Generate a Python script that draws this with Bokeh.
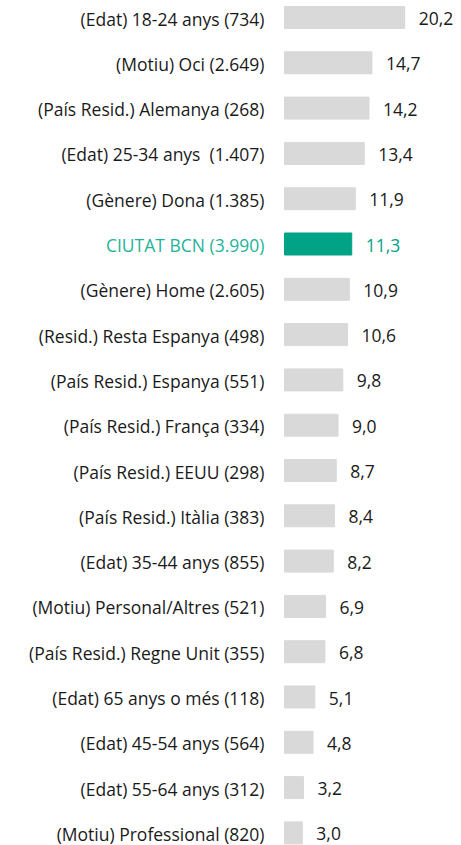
from bokeh.plotting import figure
from bokeh.models import Range1d, ColumnDataSource
from bokeh.core.properties import value
from bokeh.embed import file_html
from bokeh.resources import INLINE

labels = [
    "(Edat) 18-24 anys (734)",
    "(Motiu) Oci (2.649)",
    "(País Resid.) Alemanya (268)",
    "(Edat) 25-34 anys \u00a0(1.407)",
    "(Gènere) Dona (1.385)",
    "CIUTAT BCN (3.990)",
    "(Gènere) Home (2.605)",
    "(Resid.) Resta Espanya (498)",
    "(País Resid.) Espanya (551)",
    "(País Resid.) França (334)",
    "(País Resid.) EEUU (298)",
    "(País Resid.) Itàlia (383)",
    "(Edat) 35-44 anys (855)",
    "(Motiu) Personal/Altres (521)",
    "(País Resid.) Regne Unit (355)",
    "(Edat) 65 anys o més (118)",
    "(Edat) 45-54 anys (564)",
    "(Edat) 55-64 anys (312)",
    "(Motiu) Professional (820)",
]
values = [20.2, 14.7, 14.2, 13.4, 11.9, 11.3, 10.9, 10.6, 9.8, 9.0, 8.7, 8.4, 8.2, 6.9, 6.8, 5.1, 4.8, 3.2, 3.0]
highlight = "CIUTAT BCN (3.990)"

GREY = "#d9d9d9"
TEAL = "#00a385"
TEAL_TXT = "#1fb39a"
TXT = "#1a1a1a"

pos = list(range(len(labels)))
bar_colors = [TEAL if l == highlight else GREY for l in labels]
lab_colors = [TEAL_TXT if l == highlight else TXT for l in labels]
val_colors = [TEAL if l == highlight else TXT for l in labels]
val_text = [f"{v:.1f}".replace(".", ",") for v in values]

src = ColumnDataSource(dict(y=pos, v=values, lab=labels, vt=val_text,
                            bc=bar_colors, lc=lab_colors, vc=val_colors,
                            zero=[0] * len(pos)))

W, H = 455, 845
scale = 5.95
x0 = 284
row0 = 17
step = 45.3
p = figure(width=W, height=H, output_backend="svg", toolbar_location=None,
           x_range=Range1d(-x0 / scale, (W - x0) / scale),
           y_range=Range1d((H - row0) / step, -row0 / step),
           min_border=0, outline_line_color=None)
p.axis.visible = False
p.grid.visible = False

p.hbar(y="y", left=0, right="v", height=0.486, color="bc", source=src)
p.text(x="zero", y="y", text="lab", text_color="lc", x_offset=-20, y_offset=1,
       text_align="right", text_baseline="middle", text_font=value("Open Sans"),
       text_font_size="17.5px", source=src)
p.text(x="v", y="y", text="vt", text_color="vc", x_offset=14, y_offset=1,
       text_align="left", text_baseline="middle", text_font=value("Open Sans"),
       text_font_size="17.5px", source=src)

open("out.html", "w").write(file_html(p, INLINE))
